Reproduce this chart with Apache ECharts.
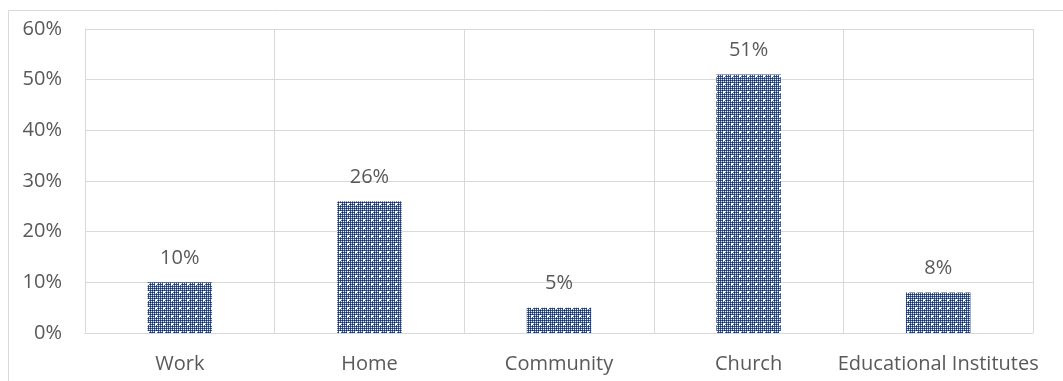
<!DOCTYPE html>
<html>
<head>
<meta charset="utf-8">
<script src="https://cdn.jsdelivr.net/npm/echarts@6/dist/echarts.min.js"></script>
<style>
  html, body { margin: 0; padding: 0; background: #fff; }
  #chart { width: 1063px; height: 381px; }
</style>
</head>
<body>
<div id="chart"></div>
<script>
// Share of respondents by setting
const categories = ['Work', 'Home', 'Community', 'Church', 'Educational Institutes'];
const shares = [10, 26, 5, 51, 8];
const yTicks = [0, 10, 20, 30, 40, 50, 60];

// Dotted navy fill tile for the bars
function makePattern() {
  const c = document.createElement('canvas');
  c.width = 8; c.height = 8;
  const g = c.getContext('2d');
  g.fillStyle = '#40608f';
  g.fillRect(0, 0, 8, 8);
  for (let y = 0; y < 8; y += 2) {
    for (let x = 0; x < 8; x += 2) {
      g.fillStyle = '#1c335f';
      g.fillRect(x, y, 1, 1);
      g.fillStyle = '#eef2f8';
      g.fillRect(x + 1, y + 1, 1, 1);
    }
  }
  g.fillStyle = '#ffffff';
  g.fillRect(3, 3, 2, 2);
  return c;
}

const chart = echarts.init(document.getElementById('chart'));
const textColor = '#595959';
const lineColor = '#d9d9d9';
const font = '"Open Sans", "Noto Sans", sans-serif';
const fontSize = 20;

chart.setOption({
  animation: false,
  graphic: [{
    type: 'rect',
    shape: { x: 8.5, y: 10.5, width: 1070, height: 380 },
    style: { fill: 'none', stroke: lineColor, lineWidth: 1 },
    silent: true
  }],
  grid: { left: 85, right: 30, top: 29, bottom: 48 },
  xAxis: {
    type: 'category',
    data: categories,
    boundaryGap: true,
    axisLine: { show: true, lineStyle: { color: lineColor, width: 1 } },
    axisTick: { show: false },
    splitLine: { show: true, lineStyle: { color: lineColor, width: 1 } },
    axisLabel: { color: textColor, fontSize: fontSize, fontFamily: font, margin: 21, interval: 0 }
  },
  yAxis: {
    type: 'value',
    min: yTicks[0],
    max: yTicks[yTicks.length - 1],
    interval: 10,
    axisLine: { show: true, lineStyle: { color: lineColor, width: 1 } },
    axisTick: { show: false },
    splitLine: { show: true, lineStyle: { color: lineColor, width: 1 } },
    axisLabel: { color: textColor, fontSize: fontSize, fontFamily: font, margin: 23, formatter: v => v + '%' }
  },
  series: [{
    type: 'bar',
    data: shares,
    barWidth: '34%',
    itemStyle: { color: { image: makePattern(), repeat: 'repeat' } },
    label: {
      show: true,
      position: 'top',
      distance: 14,
      color: textColor,
      fontSize: fontSize,
      fontFamily: font,
      formatter: p => p.value + '%'
    }
  }]
});
</script>
</body>
</html>
